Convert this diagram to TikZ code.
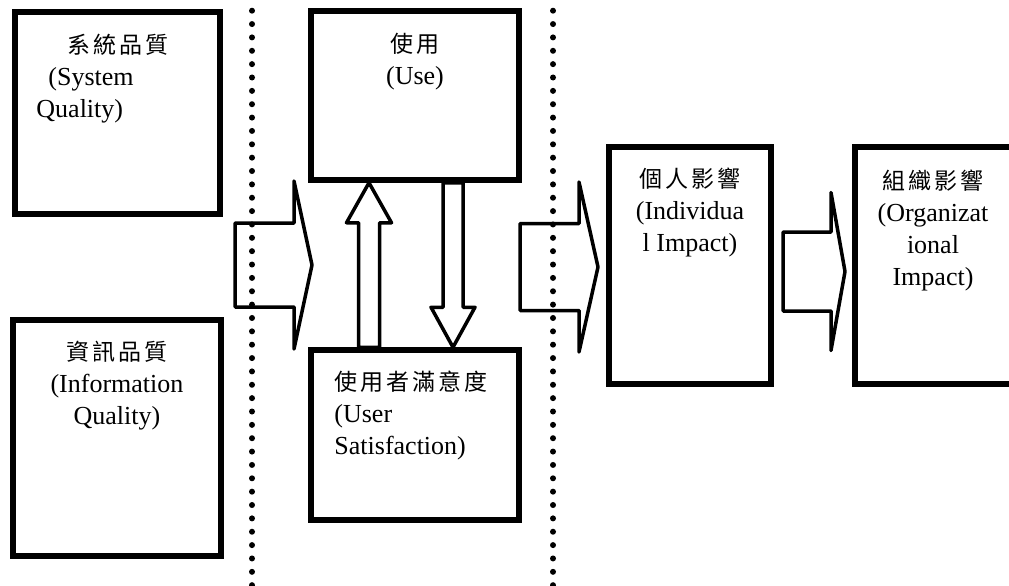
\documentclass[tikz,border=0pt]{standalone}
\usepackage{fontspec}
\setmainfont{Liberation Serif}
\newfontfamily\cjk[LetterSpace=13]{Noto Sans CJK TC}
\usetikzlibrary{calc}

\newcommand{\zh}[1]{{\cjk\fontsize{23}{32}\selectfont#1}}

\tikzset{
  box/.style={draw, line width=5.5pt, inner sep=0pt},
  txt/.style={inner sep=0pt, font=\fontsize{26}{32}\selectfont},
  dotline/.style={line width=6pt, line cap=round, dash pattern=on 0pt off 13.36pt},
  harrow/.style n args={3}{draw, line width=3.5pt, line join=round, to path={
    let \p1=(\tikztostart), \p2=(\tikztotarget), \p3=($(\tikztotarget)!#3!(\tikztostart)$) in
    (\x1,\y1+#1) -- (\x3,\y1+#1) -- (\x3,\y1+#2) -- (\p2) -- (\x3,\y1-#2) -- (\x3,\y1-#1) -- (\x1,\y1-#1) -- cycle}},
  varrow/.style n args={3}{draw, line width=3.5pt, line join=round, to path={
    let \p1=(\tikztostart), \p2=(\tikztotarget), \p3=($(\tikztotarget)!#3!(\tikztostart)$) in
    (\x1-#1,\y1) -- (\x1-#1,\y3) -- (\x1-#2,\y3) -- (\p2) -- (\x1+#2,\y3) -- (\x1+#1,\y3) -- (\x1+#1,\y1) -- cycle}}
}

\begin{document}
\begin{tikzpicture}[x=1pt,y=-1pt]
\path[use as bounding box, fill=white] (0,0) rectangle (1009,586);
\clip (0,0) rectangle (1009,586);

% boxes
\node[box, minimum width=205pt, minimum height=202pt] (sq) at (117.5,113) {};
\node[box, minimum width=208pt, minimum height=236pt] (iq) at (117,438) {};
\node[box, minimum width=208pt, minimum height=169pt] (use) at (415,95.5) {};
\node[box, minimum width=208pt, minimum height=170pt] (us) at (415,435) {};
\node[box, minimum width=162pt, minimum height=237pt] (im) at (690,265.5) {};
\node[box, minimum width=170pt, minimum height=237pt] (oi) at (940,265.5) {};

% texts
\node[txt, anchor=north west, align=left] (sq-t) at ([xshift=24pt,yshift=-25pt]sq.north west)
  {\hspace*{31pt}\zh{系統品質}\\\hspace*{12pt}(System\\Quality)};
\node[txt, anchor=north, align=center] (iq-t) at ([yshift=-24pt]iq.north)
  {\zh{資訊品質}\\(Information\\Quality)};
\node[txt, anchor=north, align=center] (use-t) at ([yshift=-25pt]use.north)
  {\zh{使用}\\(Use)};
\node[txt, anchor=north west, align=left] (us-t) at ([xshift=26pt,yshift=-24pt]us.north west)
  {\zh{使用者滿意度}\\(User\\Satisfaction)};
\node[txt, anchor=north, align=center] (im-t) at ([yshift=-23pt]im.north)
  {\zh{個人影響}\\(Individua\\l Impact)};
\node[txt, anchor=north, align=center] (oi-t) at ([xshift=-7pt,yshift=-25pt]oi.north)
  {\zh{組織影響}\\(Organizat\\ional\\Impact)};

% block arrows
\coordinate (a1-tail) at (235,265);
\coordinate (a1-tip) at (312,265);
\coordinate (a2-tail) at (520,267);
\coordinate (a2-tip) at (598,267);
\coordinate (a3-tail) at (783,271.5);
\coordinate (a3-tip) at (845,271.5);
\draw[harrow={42pt}{84pt}{18pt}] (a1-tail) to (a1-tip);
\draw[harrow={43.5pt}{85pt}{19pt}] (a2-tail) to (a2-tip);
\draw[harrow={39.5pt}{79pt}{14pt}] (a3-tail) to (a3-tip);
\draw[varrow={10.5pt}{22.5pt}{40pt}] ([xshift=-46pt]us.north) to ([xshift=-46pt]use.south);
\draw[varrow={10pt}{22pt}{40pt}] ([xshift=38pt]use.south) to ([xshift=38pt]us.north);

% dotted separators
\draw[dotline] (252,10.7) -- (252,600);
\draw[dotline] (553,10.7) -- (553,600);

\end{tikzpicture}
\end{document}
